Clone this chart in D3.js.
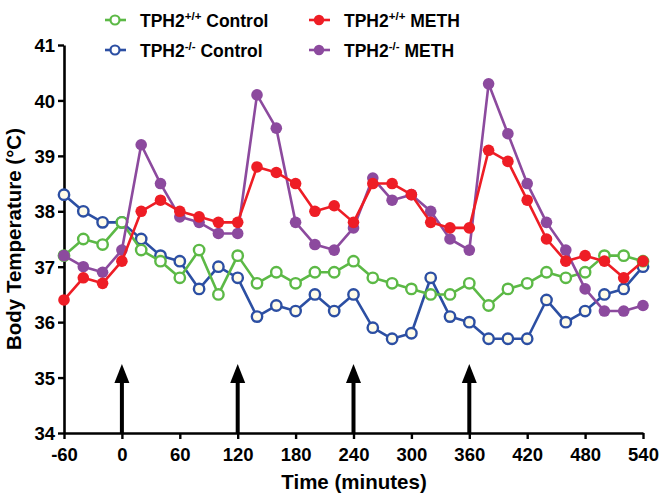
<!DOCTYPE html>
<html><head><meta charset="utf-8">
<script src="https://cdn.jsdelivr.net/npm/d3@7"></script>
<style>
html,body{margin:0;padding:0;background:#fff;}
text{font-family:"Liberation Sans",Arial,Helvetica,sans-serif;font-weight:bold;fill:#000;}
</style></head>
<body>
<svg id="chart" width="664" height="500"></svg>
<script>
const times = [-60,-40,-20,0,20,40,60,80,100,120,140,160,180,200,220,240,260,280,300,320,340,360,380,400,420,440,460,480,500,520,540];
const wtControl = [37.2,37.5,37.4,37.8,37.3,37.1,36.8,37.3,36.5,37.2,36.7,36.9,36.7,36.9,36.9,37.1,36.8,36.7,36.6,36.5,36.5,36.7,36.3,36.6,36.7,36.9,36.8,36.9,37.2,37.2,37.1];
const koControl = [38.3,38.0,37.8,37.8,37.5,37.2,37.1,36.6,37.0,36.8,36.1,36.3,36.2,36.5,36.2,36.5,35.9,35.7,35.8,36.8,36.1,36.0,35.7,35.7,35.7,36.4,36.0,36.2,36.5,36.6,37.0];
const wtMeth = [36.4,36.8,36.7,37.1,38.0,38.2,38.0,37.9,37.8,37.8,38.8,38.7,38.5,38.0,38.1,37.8,38.5,38.5,38.3,37.8,37.7,37.7,39.1,38.9,38.2,37.5,37.1,37.2,37.1,36.8,37.1];
const koMeth = [37.2,37.0,36.9,37.3,39.2,38.5,37.9,37.8,37.6,37.6,40.1,39.5,37.8,37.4,37.3,37.7,38.6,38.2,38.3,38.0,37.5,37.3,40.3,39.4,38.5,37.8,37.3,36.6,36.2,36.2,36.3];
const injectionTimes = [0,120,240,360];
const xTicks = [-60,0,60,120,180,240,300,360,420,480,540];
const yTicks = [34,35,36,37,38,39,40,41];
const seriesNames = ["TPH2 Control wt","TPH2 Control ko","TPH2 METH wt","TPH2 METH ko"];
const legendBase = ["TPH2","TPH2","TPH2","TPH2"];
const legendSup = ["+/+","-/-","+/+","-/-"];
const legendTail = [" Control"," Control"," METH"," METH"];
const seriesColors = ["#5cb946","#2c4fa3","#ee1d25","#8c4a9e"];

const svg = d3.select("#chart");
const x = d3.scaleLinear().domain([-60,540]).range([64,643]);
const y = d3.scaleLinear().domain([34,41]).range([433,45]);

const series = [
  {values: wtControl, color: seriesColors[0], open: true, fill:"#ffffff"},
  {values: koControl, color: seriesColors[1], open: true, fill:"#fffcea"},
  {values: wtMeth, color: seriesColors[2], open: false},
  {values: koMeth, color: seriesColors[3], open: false}
];
const drawOrder = [1,0,3,2];

const fmt = d => String(d);

// axes
const xAxis = svg.append("g").attr("transform","translate(0,433)")
  .call(d3.axisBottom(x).tickValues(xTicks).tickFormat(fmt).tickSize(6).tickSizeOuter(0).tickPadding(9));
const yAxis = svg.append("g").attr("transform","translate(64,0)")
  .call(d3.axisLeft(y).tickValues(yTicks).tickFormat(fmt).tickSize(6).tickSizeOuter(0).tickPadding(3));
[xAxis,yAxis].forEach(a=>{
  a.selectAll("path.domain").attr("stroke","#000").attr("stroke-width",2.6);
  a.selectAll(".tick line").attr("stroke","#000").attr("stroke-width",2.4);
  a.selectAll(".tick text").style("font-size","18.5px").style("font-weight","bold")
    .style("font-family","'Liberation Sans',Arial,sans-serif").attr("fill","#000");
});
yAxis.selectAll(".tick text").attr("dy","0.36em");

// arrows
const arrows = svg.append("g");
injectionTimes.forEach(t=>{
  const cx = x(t);
  arrows.append("line").attr("x1",cx).attr("x2",cx).attr("y1",y(34)).attr("y2",y(34)-55)
    .attr("stroke","#000").attr("stroke-width",4);
  arrows.append("path").attr("d",`M${cx},${y(34)-69} L${cx-7.5},${y(34)-50} L${cx+7.5},${y(34)-50} Z`).attr("fill","#000");
});

// series
const line = d3.line().x((d,i)=>x(times[i])).y(d=>y(d));
drawOrder.forEach(k=>{
  const s = series[k];
  const g = svg.append("g");
  g.append("path").datum(s.values).attr("d",line).attr("fill","none")
    .attr("stroke",s.color).attr("stroke-width",2.6).attr("stroke-linejoin","round");
  g.selectAll("circle").data(s.values).join("circle")
    .attr("cx",(d,i)=>x(times[i])).attr("cy",d=>y(d))
    .attr("r", s.open ? 5.2 : 5.8)
    .attr("fill", s.open ? s.fill : s.color)
    .attr("stroke", s.color).attr("stroke-width", s.open ? 2.4 : 0);
});

// axis titles
svg.append("text").attr("x",354).attr("y",489).attr("text-anchor","middle")
  .style("font-size","20.5px").text("Time (minutes)");
svg.append("text").attr("transform","translate(21,239) rotate(-90)").attr("text-anchor","middle")
  .style("font-size","20.5px").text("Body Temperature (°C)");

// legend
const legendPos = [[115,20],[115,50],[319,20],[319,50]];
seriesNames.forEach((n,k)=>{
  const [lx,ly] = legendPos[k];
  const s = series[k];
  const g = svg.append("g");
  g.append("line").attr("x1",lx-10).attr("x2",lx+11).attr("y1",ly).attr("y2",ly)
    .attr("stroke",s.color).attr("stroke-width",2.6);
  g.append("circle").attr("cx",lx).attr("cy",ly).attr("r", s.open?4.5:5.2)
    .attr("fill", s.open? "#fff" : s.color).attr("stroke",s.color).attr("stroke-width", s.open?2.2:0);
  const t = g.append("text").attr("x",lx+25).attr("y",ly+7).style("font-size","17.5px");
  t.append("tspan").text(legendBase[k]);
  t.append("tspan").attr("dy",-7).style("font-size","11.5px").text(legendSup[k]);
  t.append("tspan").attr("dy",7).text(legendTail[k]);
});
</script>
</body></html>
